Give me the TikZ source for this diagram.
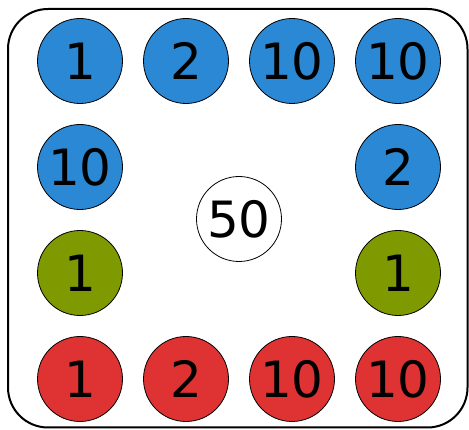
\documentclass[tikz,border=0pt]{standalone}
\usepackage{fontspec}
\setmainfont{DejaVu Sans}
\definecolor{cblue}{HTML}{2A88D4}
\definecolor{cgreen}{HTML}{7F9A00}
\definecolor{cred}{HTML}{DF3333}
\tikzset{
  coin/.style={circle, draw=black, line width=0.8pt, minimum size=85pt, inner sep=0pt, font=\fontsize{50}{50}\selectfont},
  bluec/.style={coin, fill=cblue},
  greenc/.style={coin, fill=cgreen},
  redc/.style={coin, fill=cred},
  whitec/.style={coin, fill=white}
}
\begin{document}
\begin{tikzpicture}[x=1pt,y=-1pt]
\useasboundingbox (0,0) rectangle (469,430);
\draw[line width=2pt, rounded corners=40pt] (8,9) rectangle (467.5,427.5);
\node[bluec] (a1) at (80,61) {1};
\node[bluec] (a2) at (186,61) {2};
\node[bluec] (a3) at (292,61) {10};
\node[bluec] (a4) at (398,61) {10};
\node[bluec] (b1) at (80,167) {10};
\node[bluec] (b4) at (398,167) {2};
\node[whitec] (c) at (239,219) {50};
\node[greenc] (g1) at (80,273) {1};
\node[greenc] (g4) at (398,273) {1};
\node[redc] (r1) at (80,379) {1};
\node[redc] (r2) at (186,379) {2};
\node[redc] (r3) at (292,379) {10};
\node[redc] (r4) at (398,379) {10};
\end{tikzpicture}
\end{document}
